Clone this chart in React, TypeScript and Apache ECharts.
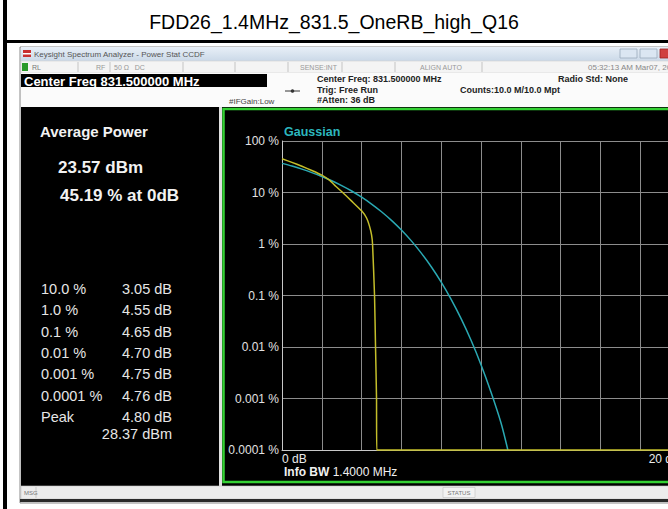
import React, { useEffect, useRef } from "react";
import * as echarts from "echarts";

const FONT = "Arial, 'Liberation Sans', Helvetica, sans-serif";

const pageTitle = "FDD26_1.4MHz_831.5_OneRB_high_Q16";

// Gaussian reference curve (x: dB above average power, y: probability %)
const gaussianDb = [0, 0.5, 1, 1.5, 2, 2.5, 3, 3.5, 4, 4.5, 5, 5.5, 6, 6.5, 7, 7.5, 8, 8.5, 9, 9.5, 10, 10.5, 11, 11.35];
const gaussianPct = [36.8, 32.6, 28.4, 24.3, 20.5, 16.9, 13.6, 10.7, 8.1, 5.97, 4.23, 2.88, 1.87, 1.15, 0.666, 0.362, 0.182, 0.0843, 0.0355, 0.0135, 0.00454, 0.00134, 0.000342, 0.0001];

// Measured CCDF trace
const measuredDb = [0, 0.5, 1, 1.5, 2, 2.4, 2.7, 3.05, 3.5, 4.0, 4.25, 4.4, 4.5, 4.55, 4.65, 4.7, 4.75, 4.76, 20];
const measuredPct = [45.19, 38.5, 32.3, 26.8, 21.8, 17.2, 13.2, 10, 6.8, 4.4, 3.2, 2.2, 1.5, 1.0, 0.1, 0.01, 0.001, 0.0001, 0.0001];

const yTickLabels = ["0.0001 %", "0.001 %", "0.01 %", "0.1 %", "1 %", "10 %", "100 %"];
const xTickLabels: Record<number, string> = { 0: "0 dB", 20: "20 dB" };

const statLabels = ["10.0 %", "1.0 %", "0.1 %", "0.01 %", "0.001 %", "0.0001 %", "Peak"];
const statValues = ["3.05 dB", "4.55 dB", "4.65 dB", "4.70 dB", "4.75 dB", "4.76 dB", "4.80 dB"];
const peakPower = "28.37 dBm";
const avgPower = "23.57 dBm";
const avgPct = "45.19 % at 0dB";

function txt(x: number, y: number, text: string, size: number, color: string, weight = "normal", align = "left", extra: any = {}) {
  return {
    type: "text",
    x,
    y,
    z: 100,
    silent: true,
    style: {
      text,
      fill: color,
      font: `${weight} ${size}px ${FONT}`,
      textAlign: align,
      textVerticalAlign: "middle",
      ...extra,
    },
  };
}

function rect(x: number, y: number, w: number, h: number, fill: string, extra: any = {}) {
  return {
    type: "rect",
    z: -10,
    silent: true,
    shape: { x, y, width: w, height: h },
    style: { fill, ...extra },
  };
}

function vline(x: number, y1: number, y2: number, color: string, w = 1) {
  return {
    type: "line",
    z: -5,
    silent: true,
    shape: { x1: x, y1, x2: x, y2 },
    style: { stroke: color, lineWidth: w },
  };
}

export default function App() {
  const ref = useRef<HTMLDivElement>(null);

  useEffect(() => {
    document.body.style.margin = "0";
    const chart = echarts.init(ref.current!, undefined, { renderer: "svg" });

    const graphic: any[] = [];
    // outer frame of the slide
    graphic.push(rect(3, 0, 4, 509, "#000"));
    graphic.push(rect(3, 40, 697, 3, "#000"));
    graphic.push(txt(334, 22, pageTitle, 19.5, "#000", "normal", "center"));

    // analyzer window
    graphic.push(rect(20, 47, 680, 456, "#f6f6f6", { stroke: "#8a8a8a", lineWidth: 1 }));
    graphic.push({
      ...rect(21, 47, 679, 14, "#d8e4f0"),
      style: {
        fill: new echarts.graphic.LinearGradient(0, 0, 0, 1, [
          { offset: 0, color: "#e8eff7" },
          { offset: 1, color: "#cbd9e8" },
        ]),
      },
    });
    graphic.push(rect(23, 50, 8, 7, "#c83030"));
    graphic.push(rect(23, 53, 8, 1.5, "#ffffff"));
    graphic.push(txt(34, 54, "Keysight Spectrum Analyzer - Power Stat CCDF", 8, "#555"));
    graphic.push(rect(620, 49, 17, 9, "#dbe6f2", { stroke: "#9aaabb", lineWidth: 0.8 }));
    graphic.push(rect(640, 49, 17, 9, "#dbe6f2", { stroke: "#9aaabb", lineWidth: 0.8 }));
    graphic.push(rect(660, 49, 17, 9, "#d04040", { stroke: "#a02020", lineWidth: 0.8 }));

    // status row
    graphic.push(rect(21, 61, 679, 12, "#f4f4f4", { stroke: "#d0d0d0", lineWidth: 0.6 }));
    graphic.push(rect(22, 63, 6, 8, "#2a9a2a"));
    [78, 110, 183, 235, 288, 342, 395, 482].forEach((x) => graphic.push(vline(x, 62, 72, "#c4c4c4")));
    graphic.push(txt(32, 67, "RL", 7, "#777"));
    graphic.push(txt(96, 67, "RF", 7, "#999"));
    graphic.push(txt(114, 67, "50 Ω   DC", 7, "#999"));
    graphic.push(txt(300, 67, "SENSE:INT", 7, "#999"));
    graphic.push(txt(420, 67, "ALIGN AUTO", 7, "#999"));
    graphic.push(txt(588, 67, "05:32:13 AM Mar07, 2018", 8, "#888"));

    // header info area
    graphic.push(rect(21, 73, 679, 34, "#fbfbfb"));
    graphic.push(rect(21, 74, 246, 13, "#000"));
    graphic.push(txt(24, 81, "Center Freq 831.500000 MHz", 13, "#fff", "bold"));
    graphic.push(txt(317, 79, "Center Freq: 831.500000 MHz", 9, "#222", "bold"));
    graphic.push(txt(317, 90, "Trig: Free Run", 9, "#222", "bold"));
    graphic.push(txt(317, 100, "#Atten: 36 dB", 9, "#222", "bold"));
    graphic.push(txt(460, 90, "Counts:10.0 M/10.0 Mpt", 9, "#222", "bold"));
    graphic.push(txt(558, 79, "Radio Std: None", 9, "#222", "bold"));
    graphic.push(txt(229, 101, "#IFGain:Low", 8, "#444"));
    graphic.push({ type: "line", z: 100, silent: true, shape: { x1: 285, y1: 91, x2: 300, y2: 91 }, style: { stroke: "#333", lineWidth: 1 } });
    graphic.push({ type: "circle", z: 100, silent: true, shape: { cx: 292.5, cy: 91, r: 1.8 }, style: { fill: "#333" } });

    // left result panel
    graphic.push(rect(21, 107, 198, 379, "#000"));
    graphic.push(rect(219, 107, 3, 379, "#e0e0e0"));
    // plot panel
    graphic.push(rect(222, 107, 478, 379, "#000"));
    graphic.push(rect(223.5, 109, 470, 373, "transparent", { stroke: "#34d134", lineWidth: 2.5, fill: "none" }));

    graphic.push(txt(40, 131, "Average Power", 15, "#f2f2f2", "bold"));
    graphic.push(txt(58, 167, avgPower, 17, "#f2f2f2", "bold"));
    graphic.push(txt(60, 195, avgPct, 17, "#f2f2f2", "bold"));
    statLabels.forEach((l, i) => {
      const y = 289 + i * 21.3;
      graphic.push(txt(41, y, l, 14.5, "#e6e6e6"));
      graphic.push(txt(172, y, statValues[i], 14.5, "#e6e6e6", "normal", "right"));
    });
    graphic.push(txt(172, 289 + 6 * 21.3 + 17.3, peakPower, 14.5, "#e6e6e6", "normal", "right"));

    graphic.push(txt(284, 132, "Gaussian", 12.5, "#2cb6be", "bold"));
    graphic.push({
      type: "text",
      x: 284,
      y: 472,
      z: 100,
      silent: true,
      style: {
        text: "{b|Info BW} {n|1.4000 MHz}",
        textVerticalAlign: "middle",
        rich: {
          b: { font: `bold 12px ${FONT}`, fill: "#f0f0f0" },
          n: { font: `normal 12px ${FONT}`, fill: "#f0f0f0" },
        },
      },
    });

    // bottom status bar
    graphic.push(rect(21, 486, 679, 13, "#ececec", { stroke: "#c8c8c8", lineWidth: 0.6 }));
    graphic.push(vline(36, 487, 498, "#c8c8c8"));
    graphic.push(txt(24, 492.5, "MSG", 6, "#777"));
    graphic.push(rect(443, 487.5, 32, 10, "#f2f2f2", { stroke: "#c0c0c0", lineWidth: 0.6 }));
    graphic.push(txt(459, 492.5, "STATUS", 6, "#777", "normal", "center"));
    graphic.push(rect(20, 499, 680, 3, "#2a2a2a"));

    const option: any = {
      animation: false,
      backgroundColor: "#ffffff",
      grid: { left: 282, top: 141, width: 398, height: 309, containLabel: false },
      xAxis: {
        type: "value",
        min: 0,
        max: 20,
        interval: 2,
        axisLine: { show: true, lineStyle: { color: "#c8c8c8", width: 1 } },
        axisTick: { show: false },
        splitLine: { show: true, lineStyle: { color: "#8c8c8c", width: 1 } },
        axisLabel: {
          show: true,
          interval: 0,
          showMinLabel: true,
          showMaxLabel: true,
          alignMinLabel: "left",
          alignMaxLabel: "right",
          formatter: (v: number) => xTickLabels[Math.round(v)] ?? "",
          color: "#ececec",
          fontSize: 12,
          fontFamily: FONT,
          margin: 3,
        },
      },
      yAxis: {
        type: "log",
        logBase: 10,
        min: 0.0001,
        max: 100,
        splitNumber: 6,
        axisLine: { show: true, lineStyle: { color: "#c8c8c8", width: 1 } },
        axisTick: { show: false },
        splitLine: { show: true, lineStyle: { color: "#8c8c8c", width: 1 } },
        axisLabel: {
          formatter: (v: number) => yTickLabels[Math.round(Math.log10(v)) + 4] ?? "",
          color: "#e2e2e2",
          fontSize: 12,
          fontFamily: FONT,
          margin: 3,
        },
      },
      series: [
        {
          name: "Gaussian",
          type: "line",
          data: gaussianDb.map((d, i) => [d, gaussianPct[i]]),
          showSymbol: false,
          smooth: 0.3,
          clip: false,
          lineStyle: { color: "#2aa9b3", width: 1.5 },
          z: 3,
        },
        {
          name: "Measured",
          type: "line",
          data: measuredDb.map((d, i) => [d, measuredPct[i]]),
          showSymbol: false,
          smooth: 0.15,
          clip: false,
          lineStyle: { color: "#c4be2a", width: 1.5 },
          z: 4,
        },
      ],
      graphic,
    };

    chart.setOption(option);
    return () => chart.dispose();
  }, []);

  return (
    <div style={{ position: "absolute", left: 0, top: 0, width: 668, height: 509, overflow: "hidden" }}>
      <div ref={ref} style={{ width: 700, height: 509 }} />
    </div>
  );
}
